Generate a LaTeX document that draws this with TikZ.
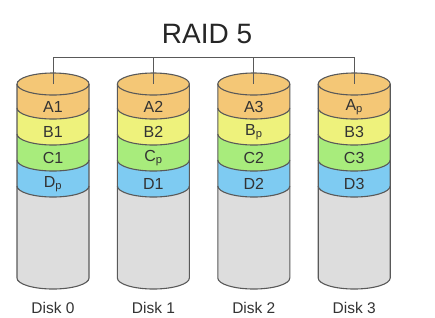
\documentclass[tikz,border=0pt]{standalone}
\usepackage{fontspec}
\setmainfont{Liberation Sans}
\definecolor{cOr}{HTML}{F4C776}
\definecolor{cYe}{HTML}{EEF27C}
\definecolor{cGr}{HTML}{A8EC7C}
\definecolor{cBl}{HTML}{7ECBF2}
\definecolor{cGy}{HTML}{DDDDDD}
\definecolor{cLine}{HTML}{595959}
\definecolor{cTxt}{HTML}{333333}
\begin{document}
\begin{tikzpicture}[x=1pt,y=1pt,
  outline/.style={draw=cLine, line width=1.1pt},
  bus/.style={draw=cLine, line width=0.9pt},
  bandlbl/.style={font=\fontsize{16}{16}\selectfont, text=cTxt, inner sep=0pt},
  disklbl/.style={font=\fontsize{15.5}{15.5}\selectfont, text=cTxt, inner sep=0pt},
  titlelbl/.style={font=\fontsize{28}{28}\selectfont, text=black!85, inner sep=0pt}]
\useasboundingbox (0,0) rectangle (435,-317);
\node[titlelbl] (title) at (207,-34) {RAID 5};
\foreach \i/\la/\lb/\lc/\ld in {0/A1/B1/C1/{D\textsubscript{p}},
                              1/A2/B2/{C\textsubscript{p}}/D1,
                              2/A3/{B\textsubscript{p}}/C2/D2,
                              3/{A\textsubscript{p}}/B3/C3/D3} {
  \pgfmathsetmacro\cx{53+100.4*\i}
  \pgfmathsetmacro\xl{\cx-36}
  \pgfmathsetmacro\xr{\cx+36}
  % bands
  \foreach \ya/\yb/\col in {186/278/cGy, 160/186/cBl, 134/160/cGr, 108/134/cYe, 84/108/cOr} {
    \fill[\col] (\xl,-\ya) arc[start angle=180,end angle=360,x radius=36pt,y radius=11pt]
      -- (\xr,-\yb) arc[start angle=0,end angle=-180,x radius=36pt,y radius=11pt] -- cycle;
  }
  % top ellipse
  \draw[outline, fill=cOr] (\cx,-84) ellipse[x radius=36pt, y radius=11pt];
  % sides and bottom
  \draw[outline] (\xl,-84) -- (\xl,-278) arc[start angle=180,end angle=360,x radius=36pt,y radius=11pt] -- (\xr,-84);
  \foreach \yy in {108,134,160,186} {
    \draw[outline] (\xl,-\yy) arc[start angle=180,end angle=360,x radius=36pt,y radius=11pt];
  }
  \coordinate (top\i) at (\cx,-84);
  \coordinate (bus\i) at (\cx,-57);
  \node[bandlbl] (a\i) at (\cx,-107) {\la};
  \node[bandlbl] (b\i) at (\cx,-132) {\lb};
  \node[bandlbl] (c\i) at (\cx,-158) {\lc};
  \node[bandlbl] (d\i) at (\cx,-184) {\ld};
  \node[disklbl] (disk\i) at (\cx,-308) {Disk \i};
}
\draw[bus] (top0) -- (bus0) -- (bus3) -- (top3);
\draw[bus] (bus1) -- (top1);
\draw[bus] (bus2) -- (top2);
\end{tikzpicture}
\end{document}
